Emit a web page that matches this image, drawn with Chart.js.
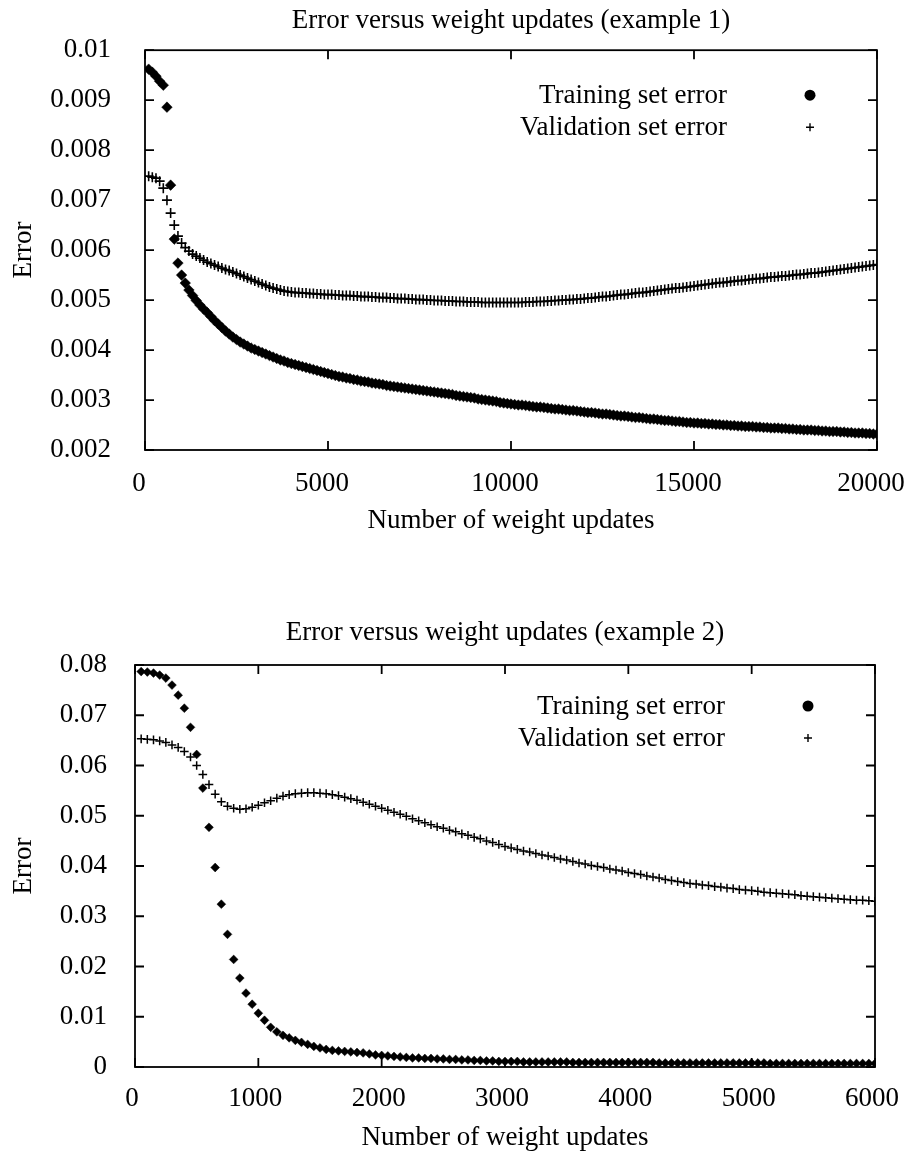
<!DOCTYPE html>
<html>
<head>
<meta charset="utf-8">
<title>Error versus weight updates</title>
<script src="https://cdn.jsdelivr.net/npm/chart.js@4.4.0/dist/chart.umd.min.js"></script>
<style>
  body { margin: 0; background: #fff; }
  .box { position: absolute; left: 0; width: 905px; }
</style>
</head>
<body>
<div class="box" style="top:0;height:570px"><canvas id="chart1"></canvas></div>
<div class="box" style="top:580px;height:579px"><canvas id="chart2"></canvas></div>
<script>
// Example 1: one sample every 100 weight updates (100 .. 20000)
const STEP1 = 100;
const training1 = [
  0.00962, 0.00956, 0.00948, 0.00938, 0.00930, 0.00886, 0.00730, 0.00622, 0.00574, 0.00550,
  0.00534, 0.00520, 0.00509, 0.00499, 0.00490, 0.00482, 0.00475, 0.00467, 0.00459, 0.00452,
  0.00445, 0.00438, 0.00432, 0.00426, 0.00421, 0.00416, 0.00412, 0.00408, 0.00404, 0.00401,
  0.00398, 0.00395, 0.00392, 0.00389, 0.00386, 0.00383, 0.00380, 0.00378, 0.00375, 0.00373,
  0.00371, 0.00369, 0.00367, 0.00365, 0.00363, 0.00361, 0.00359, 0.00357, 0.00355, 0.00353,
  0.00351, 0.00349, 0.00347, 0.00346, 0.00344, 0.00343, 0.00341, 0.00340, 0.00338, 0.00337,
  0.00336, 0.00334, 0.00333, 0.00332, 0.00331, 0.00329, 0.00328, 0.00327, 0.00326, 0.00325,
  0.00324, 0.00323, 0.00322, 0.00321, 0.00320, 0.00319, 0.00318, 0.00317, 0.00316, 0.00315,
  0.00314, 0.00313, 0.00312, 0.00311, 0.00309, 0.00308, 0.00307, 0.00306, 0.00305, 0.00304,
  0.00302, 0.00301, 0.00300, 0.00299, 0.00298, 0.00297, 0.00295, 0.00294, 0.00293, 0.00292,
  0.00291, 0.00290, 0.00290, 0.00289, 0.00288, 0.00287, 0.00286, 0.00286, 0.00285, 0.00284,
  0.00283, 0.00282, 0.00282, 0.00281, 0.00280, 0.00279, 0.00279, 0.00278, 0.00277, 0.00276,
  0.00275, 0.00275, 0.00274, 0.00273, 0.00272, 0.00272, 0.00271, 0.00270, 0.00269, 0.00268,
  0.00268, 0.00267, 0.00266, 0.00265, 0.00265, 0.00264, 0.00263, 0.00262, 0.00262, 0.00261,
  0.00260, 0.00259, 0.00259, 0.00258, 0.00257, 0.00257, 0.00256, 0.00255, 0.00255, 0.00254,
  0.00254, 0.00253, 0.00253, 0.00252, 0.00252, 0.00251, 0.00251, 0.00250, 0.00250, 0.00249,
  0.00249, 0.00248, 0.00248, 0.00247, 0.00247, 0.00247, 0.00246, 0.00246, 0.00245, 0.00245,
  0.00244, 0.00244, 0.00244, 0.00243, 0.00243, 0.00242, 0.00242, 0.00241, 0.00241, 0.00240,
  0.00240, 0.00240, 0.00239, 0.00239, 0.00238, 0.00238, 0.00237, 0.00237, 0.00237, 0.00236,
  0.00236, 0.00235, 0.00235, 0.00234, 0.00234, 0.00234, 0.00233, 0.00233, 0.00232, 0.00232
];
const validation1 = [
  0.00748, 0.00746, 0.00744, 0.00738, 0.00724, 0.00700, 0.00674, 0.00650, 0.00628, 0.00614,
  0.00605, 0.00598, 0.00592, 0.00588, 0.00584, 0.00580, 0.00576, 0.00573, 0.00570, 0.00567,
  0.00564, 0.00561, 0.00559, 0.00556, 0.00553, 0.00550, 0.00547, 0.00544, 0.00541, 0.00538,
  0.00535, 0.00532, 0.00529, 0.00526, 0.00524, 0.00522, 0.00520, 0.00518, 0.00517, 0.00516,
  0.00515, 0.00515, 0.00514, 0.00514, 0.00513, 0.00513, 0.00512, 0.00512, 0.00511, 0.00511,
  0.00511, 0.00510, 0.00510, 0.00509, 0.00509, 0.00509, 0.00508, 0.00508, 0.00507, 0.00507,
  0.00507, 0.00506, 0.00506, 0.00505, 0.00505, 0.00505, 0.00504, 0.00504, 0.00503, 0.00503,
  0.00503, 0.00502, 0.00502, 0.00501, 0.00501, 0.00501, 0.00500, 0.00500, 0.00499, 0.00499,
  0.00499, 0.00498, 0.00498, 0.00498, 0.00497, 0.00497, 0.00497, 0.00496, 0.00496, 0.00496,
  0.00496, 0.00495, 0.00495, 0.00495, 0.00495, 0.00495, 0.00495, 0.00495, 0.00495, 0.00495,
  0.00495, 0.00495, 0.00495, 0.00496, 0.00496, 0.00496, 0.00497, 0.00497, 0.00497, 0.00498,
  0.00498, 0.00499, 0.00499, 0.00500, 0.00500, 0.00501, 0.00501, 0.00502, 0.00502, 0.00503,
  0.00504, 0.00504, 0.00505, 0.00506, 0.00507, 0.00507, 0.00508, 0.00509, 0.00510, 0.00511,
  0.00511, 0.00512, 0.00513, 0.00514, 0.00515, 0.00515, 0.00516, 0.00517, 0.00518, 0.00519,
  0.00520, 0.00521, 0.00522, 0.00523, 0.00524, 0.00524, 0.00525, 0.00526, 0.00527, 0.00528,
  0.00529, 0.00530, 0.00531, 0.00532, 0.00533, 0.00534, 0.00535, 0.00535, 0.00536, 0.00537,
  0.00538, 0.00539, 0.00539, 0.00540, 0.00541, 0.00542, 0.00543, 0.00543, 0.00544, 0.00545,
  0.00546, 0.00546, 0.00547, 0.00548, 0.00548, 0.00549, 0.00550, 0.00551, 0.00551, 0.00552,
  0.00553, 0.00554, 0.00554, 0.00555, 0.00556, 0.00557, 0.00558, 0.00559, 0.00560, 0.00561,
  0.00562, 0.00563, 0.00564, 0.00565, 0.00566, 0.00567, 0.00568, 0.00569, 0.00570, 0.00571
];
const xTicks1 = [0, 5000, 10000, 15000, 20000];
const xTickLabels1 = ['0', '5000', '10000', '15000', '20000'];
const yTicks1 = [0.002, 0.003, 0.004, 0.005, 0.006, 0.007, 0.008, 0.009, 0.01];
const yTickLabels1 = ['0.002', '0.003', '0.004', '0.005', '0.006', '0.007', '0.008', '0.009', '0.01'];

// Example 2: one sample every 50 weight updates (50 .. 6000)
const STEP2 = 50;
const training2 = [
  0.0787, 0.0786, 0.0784, 0.0780, 0.0774, 0.0760, 0.0740, 0.0714, 0.0676, 0.0622,
  0.0555, 0.0477, 0.0397, 0.0324, 0.0264, 0.0214, 0.0177, 0.0147, 0.0125, 0.0107,
  0.0093, 0.0079, 0.0070, 0.0063, 0.0058, 0.0053, 0.0049, 0.0045, 0.0041, 0.0038,
  0.0035, 0.0033, 0.0032, 0.0031, 0.0030, 0.0029, 0.0028, 0.0026, 0.0024, 0.0023,
  0.0022, 0.0021, 0.0020, 0.0019, 0.0018, 0.0018, 0.0017, 0.0017, 0.0016, 0.0016,
  0.0015, 0.0015, 0.0014, 0.0014, 0.0013, 0.0013, 0.0012, 0.0012, 0.0011, 0.0011,
  0.0011, 0.0011, 0.0010, 0.0010, 0.0010, 0.0010, 0.0010, 0.0010, 0.0010, 0.0010,
  0.0009, 0.0009, 0.0009, 0.0009, 0.0009, 0.0009, 0.0009, 0.0009, 0.0009, 0.0009,
  0.0009, 0.0009, 0.0009, 0.0009, 0.0008, 0.0008, 0.0008, 0.0008, 0.0008, 0.0008,
  0.0008, 0.0008, 0.0008, 0.0008, 0.0008, 0.0008, 0.0008, 0.0008, 0.0008, 0.0008,
  0.0008, 0.0008, 0.0007, 0.0007, 0.0007, 0.0007, 0.0007, 0.0007, 0.0007, 0.0007,
  0.0007, 0.0007, 0.0007, 0.0007, 0.0007, 0.0007, 0.0007, 0.0007, 0.0007, 0.0007
];
const validation2 = [
  0.0653, 0.0652, 0.0651, 0.0649, 0.0646, 0.0641, 0.0636, 0.0628, 0.0617, 0.0600,
  0.0582, 0.0562, 0.0543, 0.0528, 0.0519, 0.0515, 0.0513, 0.0514, 0.0517, 0.0521,
  0.0526, 0.0530, 0.0535, 0.0539, 0.0542, 0.0544, 0.0545, 0.0546, 0.0546, 0.0545,
  0.0544, 0.0542, 0.0540, 0.0537, 0.0534, 0.0531, 0.0527, 0.0523, 0.0519, 0.0515,
  0.0511, 0.0507, 0.0503, 0.0499, 0.0494, 0.0490, 0.0486, 0.0482, 0.0478, 0.0475,
  0.0471, 0.0468, 0.0464, 0.0461, 0.0457, 0.0454, 0.0450, 0.0447, 0.0443, 0.0439,
  0.0436, 0.0433, 0.0430, 0.0428, 0.0425, 0.0422, 0.0420, 0.0417, 0.0414, 0.0412,
  0.0409, 0.0406, 0.0404, 0.0401, 0.0399, 0.0397, 0.0394, 0.0392, 0.0390, 0.0387,
  0.0385, 0.0383, 0.0380, 0.0378, 0.0376, 0.0373, 0.0371, 0.0369, 0.0367, 0.0365,
  0.0364, 0.0362, 0.0361, 0.0359, 0.0358, 0.0356, 0.0355, 0.0353, 0.0352, 0.0351,
  0.0350, 0.0348, 0.0347, 0.0346, 0.0345, 0.0344, 0.0343, 0.0341, 0.0340, 0.0339,
  0.0338, 0.0337, 0.0336, 0.0335, 0.0334, 0.0333, 0.0332, 0.0332, 0.0331, 0.0330
];
const xTicks2 = [0, 1000, 2000, 3000, 4000, 5000, 6000];
const xTickLabels2 = ['0', '1000', '2000', '3000', '4000', '5000', '6000'];
const yTicks2 = [0, 0.01, 0.02, 0.03, 0.04, 0.05, 0.06, 0.07, 0.08];
const yTickLabels2 = ['0', '0.01', '0.02', '0.03', '0.04', '0.05', '0.06', '0.07', '0.08'];

const seriesNames = ['Training set error', 'Validation set error'];
const FONT = '"Liberation Serif", "Times New Roman", serif';

function toPoints(values, step) {
  return values.map((v, i) => ({ x: (i + 1) * step, y: v }));
}

// gnuplot style frame with inward ticks on all four sides
const framePlugin = {
  id: 'frame',
  afterDatasetsDraw(chart) {
    const { ctx, chartArea: a, scales: { x, y } } = chart;
    const len = 9;
    ctx.save();
    ctx.strokeStyle = '#000';
    ctx.lineWidth = 1.8;
    ctx.strokeRect(a.left, a.top, a.right - a.left, a.bottom - a.top);
    ctx.beginPath();
    x.ticks.forEach(t => {
      const px = x.getPixelForValue(t.value);
      ctx.moveTo(px, a.bottom); ctx.lineTo(px, a.bottom - len);
      ctx.moveTo(px, a.top); ctx.lineTo(px, a.top + len);
    });
    y.ticks.forEach(t => {
      const py = y.getPixelForValue(t.value);
      ctx.moveTo(a.left, py); ctx.lineTo(a.left + len, py);
      ctx.moveTo(a.right, py); ctx.lineTo(a.right - len, py);
    });
    ctx.stroke();
    ctx.restore();
  }
};

// key in the top right corner: label right aligned, symbol after it
const keyPlugin = {
  id: 'key',
  afterDraw(chart) {
    const { ctx, chartArea: a } = chart;
    const keyTop = chart.options.plugins.key.top;
    const textX = a.right - 150;
    const markX = a.right - 67;
    ctx.save();
    ctx.font = '27px ' + FONT;
    ctx.fillStyle = '#000';
    ctx.strokeStyle = '#000';
    ctx.textAlign = 'right';
    ctx.textBaseline = 'middle';
    chart.data.datasets.forEach((ds, i) => {
      const rowY = a.top + keyTop + i * 32;
      ctx.fillText(ds.label, textX, rowY + 1);
      if (i === 0) {
        ctx.beginPath();
        ctx.arc(markX, rowY, 5.5, 0, Math.PI * 2);
        ctx.fill();
      } else {
        ctx.lineWidth = 1.4;
        ctx.beginPath();
        ctx.moveTo(markX - 4, rowY); ctx.lineTo(markX + 4, rowY);
        ctx.moveTo(markX, rowY - 4); ctx.lineTo(markX, rowY + 4);
        ctx.stroke();
      }
    });
    ctx.restore();
  }
};

function makeChart(id, cfg) {
  const ctx = document.getElementById(id).getContext('2d');
  return new Chart(ctx, {
    type: 'scatter',
    data: {
      datasets: [{
        label: seriesNames[0],
        data: toPoints(cfg.training, cfg.step),
        pointStyle: 'rectRot',
        pointRadius: cfg.diamond,
        backgroundColor: '#000',
        borderColor: '#000',
        borderWidth: 0.5
      }, {
        label: seriesNames[1],
        data: toPoints(cfg.validation, cfg.step),
        pointStyle: 'cross',
        pointRadius: cfg.cross,
        borderColor: '#000',
        borderWidth: cfg.crossWidth
      }]
    },
    options: {
      responsive: true,
      maintainAspectRatio: false,
      animation: false,
      events: [],
      layout: { padding: { left: 0, right: cfg.padRight, top: 0, bottom: 0 } },
      plugins: {
        legend: { display: false },
        tooltip: { enabled: false },
        key: { top: cfg.keyTop },
        title: {
          display: true,
          fullSize: false,
          text: cfg.title,
          color: '#000',
          font: { family: FONT, size: 27, weight: 'normal', lineHeight: 1.2 },
          padding: cfg.titlePad
        }
      },
      scales: {
        x: {
          type: 'linear',
          min: cfg.xTicks[0],
          max: cfg.xTicks[cfg.xTicks.length - 1],
          afterBuildTicks: s => { s.ticks = cfg.xTicks.map(v => ({ value: v })); },
          afterFit: s => { s.height = cfg.xHeight; s.paddingLeft = 0; s.paddingRight = 0; },
          grid: { display: false, drawTicks: false },
          border: { display: false },
          ticks: {
            color: '#000',
            padding: cfg.xTickPad,
            labelOffset: cfg.xLabelShift,
            maxRotation: 0,
            font: { family: FONT, size: 27 },
            callback: (v, i) => cfg.xTickLabels[i]
          },
          title: {
            display: true,
            text: 'Number of weight updates',
            color: '#000',
            font: { family: FONT, size: 27 },
            padding: { top: 0, bottom: cfg.xTitlePad }
          }
        },
        y: {
          type: 'linear',
          min: cfg.yTicks[0],
          max: cfg.yTicks[cfg.yTicks.length - 1],
          afterBuildTicks: s => { s.ticks = cfg.yTicks.map(v => ({ value: v })); },
          afterFit: s => { s.width = cfg.yWidth; },
          grid: { display: false, drawTicks: false },
          border: { display: false },
          ticks: {
            color: '#000',
            padding: cfg.yTickPad,
            font: { family: FONT, size: 27 },
            callback: (v, i) => cfg.yTickLabels[i]
          },
          title: {
            display: true,
            text: 'Error',
            color: '#000',
            font: { family: FONT, size: 27 },
            padding: { top: 8, bottom: 0 }
          }
        }
      }
    },
    plugins: [framePlugin, keyPlugin]
  });
}

makeChart('chart1', {
  title: 'Error versus weight updates (example 1)',
  training: training1, validation: validation1, step: STEP1,
  xTicks: xTicks1, xTickLabels: xTickLabels1,
  yTicks: yTicks1, yTickLabels: yTickLabels1,
  diamond: 5.3, cross: 5, crossWidth: 1.6,
  padRight: 28, yWidth: 145, xHeight: 120,
  titlePad: { top: 5, bottom: 12.6 },
  xTickPad: 18, xTitlePad: 33, yTickPad: 34, xLabelShift: -6,
  keyTop: 45
});

makeChart('chart2', {
  title: 'Error versus weight updates (example 2)',
  training: training2, validation: validation2, step: STEP2,
  xTicks: xTicks2, xTickLabels: xTickLabels2,
  yTicks: yTicks2, yTickLabels: yTickLabels2,
  diamond: 4.4, cross: 4.3, crossWidth: 1.5,
  padRight: 30, yWidth: 135, xHeight: 92,
  titlePad: { top: 36.6, bottom: 16 },
  xTickPad: 16, xTitlePad: 5, yTickPad: 28, xLabelShift: -3,
  keyTop: 41
});
</script>
</body>
</html>
